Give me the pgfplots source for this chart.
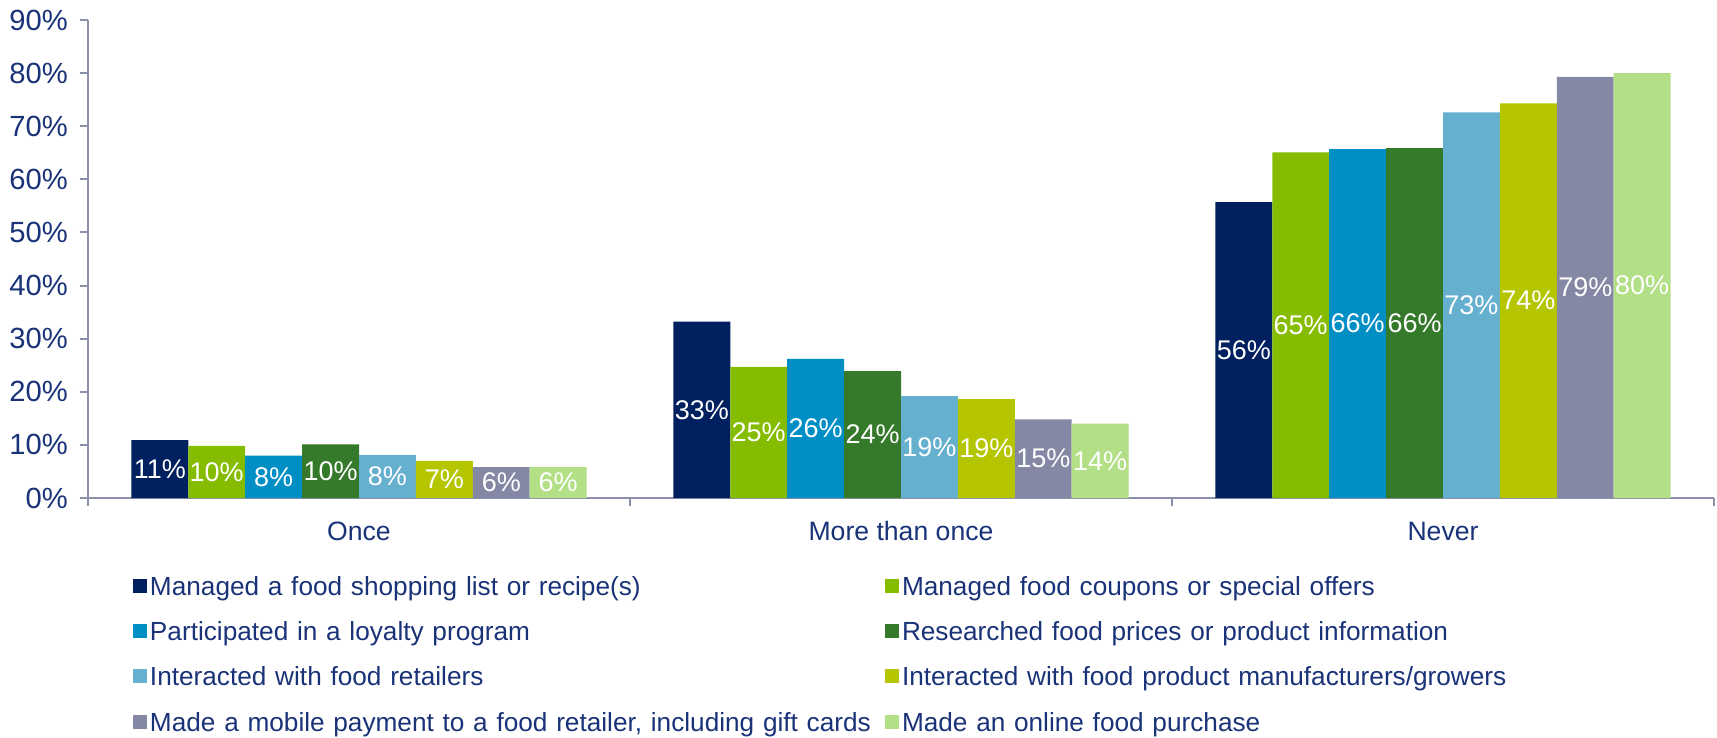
\documentclass[border=0pt]{standalone}
\usepackage{fontspec}
\setmainfont{Liberation Sans}
\usepackage{pgfplots}
\pgfplotsset{compat=1.18}

\definecolor{navy}{RGB}{25,50,120}
\definecolor{axisgray}{RGB}{140,143,170}
\definecolor{cA}{HTML}{002060}
\definecolor{cB}{HTML}{86BC00}
\definecolor{cC}{HTML}{008FC5}
\definecolor{cD}{HTML}{35792A}
\definecolor{cE}{HTML}{65AFCF}
\definecolor{cF}{HTML}{B5C600}
\definecolor{cG}{HTML}{8588A5}
\definecolor{cH}{HTML}{B3DF86}

% x: 0 = Once, 1 = More than once, 2 = Never
\pgfplotstableread{
x y
0 10.9
1 33.2
2 55.7
}\listrecipe
\pgfplotstableread{
x y
0 9.8
1 24.7
2 65.1
}\coupons
\pgfplotstableread{
x y
0 8.0
1 26.2
2 65.7
}\loyalty
\pgfplotstableread{
x y
0 10.1
1 23.9
2 65.9
}\prices
\pgfplotstableread{
x y
0 8.1
1 19.2
2 72.6
}\retailers
\pgfplotstableread{
x y
0 7.0
1 18.6
2 74.3
}\manufacturers
\pgfplotstableread{
x y
0 5.8
1 14.8
2 79.3
}\mobilepay
\pgfplotstableread{
x y
0 5.8
1 14.0
2 80.0
}\online

\begin{document}
\begin{tikzpicture}
\useasboundingbox (-44pt,-120pt) rectangle (814.5pt,249pt);
\begin{axis}[
  at={(0,0)}, anchor=south west,
  scale only axis, width=813pt, height=239pt,
  xmin=-0.5, xmax=2.5, ymin=0, ymax=90,
  ybar=0pt, bar width=0.105,
  axis x line*=bottom, axis y line*=left,
  axis line style={draw=axisgray, line width=1pt},
  tick align=outside,
  major tick length=4pt, minor tick length=4pt,
  xtick={0,1,2},
  xticklabels={Once, More than once, Never},
  major x tick style={draw=none},
  minor xtick={-0.5,0.5,1.5,2.5},
  minor x tick style={draw=axisgray, line width=1pt},
  ytick={0,10,...,90},
  yticklabels={0\%,10\%,20\%,30\%,40\%,50\%,60\%,70\%,80\%,90\%},
  ytick style={draw=axisgray, line width=1pt},
  tick label style={text=navy},
  xticklabel style={font=\fontsize{13.3}{15}\selectfont, anchor=base, yshift=-17.4pt},
  yticklabel style={font=\fontsize{14.6}{16}\selectfont, anchor=east, xshift=-2.5pt},
  /pgf/number format/assume math mode=true,
  nodes near coords={\pgfmathprintnumber[fixed,precision=0]{\pgfplotspointmeta}\%},
  visualization depends on={rawy \as \rawy},
  every node near coord/.append style={anchor=center, text=white,
    font=\fontsize{13.5}{15}\selectfont, inner sep=0pt,
    shift={(axis direction cs:0,-\rawy/2)}},
  legend columns=2,
  legend cell align=left,
  legend image code/.code={\fill[#1] (0pt,-2.3pt) rectangle (7pt,4.7pt);},
  legend style={
    at={(axis description cs:0,0)}, anchor=north west,
    xshift=19.3pt, yshift=-37pt,
    draw=none, fill=none,
    font=\fontsize{13.1}{15}\selectfont, text=navy,
    row sep=10.6pt, column sep=0pt,
    /tikz/every odd column/.append style={column sep=1.5pt},
    nodes={inner sep=0pt, text height=9.5pt, text depth=2.5pt, text width=367.5pt},
  },
]
\addplot[fill=cA, draw=none] table {\listrecipe};
\addplot[fill=cB, draw=none] table {\coupons};
\addplot[fill=cC, draw=none] table {\loyalty};
\addplot[fill=cD, draw=none] table {\prices};
\addplot[fill=cE, draw=none] table {\retailers};
\addplot[fill=cF, draw=none] table {\manufacturers};
\addplot[fill=cG, draw=none] table {\mobilepay};
\addplot[fill=cH, draw=none] table {\online};
\legend{Managed a food shopping list or recipe(s),
  Managed food coupons or special offers,
  Participated in a loyalty program,
  Researched food prices or product information,
  Interacted with food retailers,
  Interacted with food product manufacturers/growers,
  {Made a mobile payment to a food retailer, including gift cards},
  Made an online food purchase}
\end{axis}
\end{tikzpicture}
\end{document}
